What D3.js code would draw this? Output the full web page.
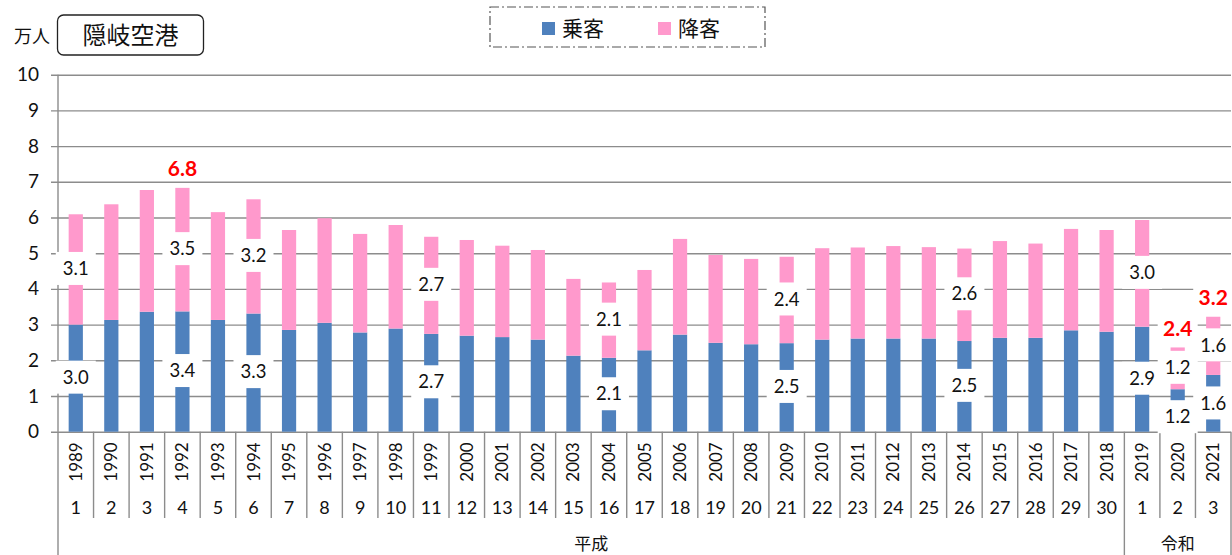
<!DOCTYPE html>
<html lang="ja">
  <head>
    <meta charset="UTF-8" />
    <title>隠岐空港</title>
    <script src="https://d3js.org/d3.v7.min.js"></script>
    <style>
      body {
        margin: 0;
        background: #fff;
      }
      text {
        font-family: Lato, "Noto Sans CJK JP", sans-serif;
      }
      .jp {
        font-family: "Noto Sans CJK JP", sans-serif;
      }
    </style>
  </head>
  <body>
    <div id="chart"></div>
    <script>
      // values in 万人
      var years = [
        1989, 1990, 1991, 1992, 1993, 1994, 1995, 1996, 1997, 1998, 1999, 2000,
        2001, 2002, 2003, 2004, 2005, 2006, 2007, 2008, 2009, 2010, 2011, 2012,
        2013, 2014, 2015, 2016, 2017, 2018, 2019, 2020, 2021,
      ];
      var eraYears = [
        1, 2, 3, 4, 5, 6, 7, 8, 9, 10, 11, 12, 13, 14, 15, 16, 17, 18, 19, 20,
        21, 22, 23, 24, 25, 26, 27, 28, 29, 30, 1, 2, 3,
      ];
      var eraNames = ["平成", "令和"];
      var eraFirstYear = [1989, 2019];

      var boarding = [
        3.0, 3.13, 3.36, 3.37, 3.13, 3.31, 2.85, 3.05, 2.78, 2.89, 2.74, 2.69,
        2.65, 2.58, 2.13, 2.07, 2.28, 2.72, 2.49, 2.45, 2.48, 2.58, 2.61, 2.61,
        2.61, 2.54, 2.63, 2.63, 2.84, 2.8, 2.94, 1.19, 1.59,
      ];
      var alighting = [
        3.09, 3.24, 3.41, 3.46, 3.02, 3.2, 2.8, 2.93, 2.76, 2.9, 2.72, 2.68,
        2.56, 2.51, 2.15, 2.11, 2.25, 2.68, 2.46, 2.39, 2.42, 2.56, 2.55, 2.59,
        2.56, 2.59, 2.71, 2.64, 2.84, 2.85, 2.99, 1.17, 1.63,
      ];
      var labelYears = [1989, 1992, 1994, 1999, 2004, 2009, 2014, 2019, 2020, 2021];
      var totalLabelYears = [1992, 2020, 2021];
      var yTicks = [0, 1, 2, 3, 4, 5, 6, 7, 8, 9, 10];

      var W = 1232,
        H = 555;
      var plotLeft = 58,
        plotRight = 1231,
        plotBottom = 431.7,
        plotTop = 74.7;

      var svg = d3
        .select("#chart")
        .append("svg")
        .attr("width", W)
        .attr("height", H);

      var data = years.map(function (yr, i) {
        return {
          year: yr,
          era: eraYears[i],
          b: boarding[i],
          a: alighting[i],
          t: boarding[i] + alighting[i],
        };
      });

      var xCell = d3.scaleBand().domain(years).range([plotLeft, plotRight]);
      var xBar = d3
        .scaleBand()
        .domain(years)
        .range([plotLeft, plotRight])
        .paddingInner(0.6)
        .paddingOuter(0.3);
      var y = d3.scaleLinear().domain([0, 10]).range([plotBottom, plotTop]);

      var grey = "#8c8c8c";

      // Y axis + gridlines
      var yAxis = svg
        .append("g")
        .attr("transform", "translate(51,0)")
        .call(
          d3
            .axisLeft(y)
            .tickValues(yTicks)
            .tickSize(-(plotRight - 51))
            .tickPadding(12)
        );
      yAxis.select(".domain").remove();
      yAxis
        .selectAll(".tick line")
        .attr("stroke", grey)
        .attr("stroke-width", 1.4);
      yAxis
        .selectAll(".tick text")
        .attr("font-size", 19)
        .attr("fill", "#111");

      svg
        .append("line")
        .attr("x1", plotLeft)
        .attr("x2", plotLeft)
        .attr("y1", y(10))
        .attr("y2", plotBottom)
        .attr("stroke", grey)
        .attr("stroke-width", 1.4);

      // bars
      var bars = svg.append("g");
      bars
        .selectAll("rect.b")
        .data(data)
        .enter()
        .append("rect")
        .attr("x", (d) => xBar(d.year))
        .attr("width", xBar.bandwidth())
        .attr("y", (d) => y(d.b))
        .attr("height", (d) => y(0) - y(d.b))
        .attr("fill", "#4f81bd");
      bars
        .selectAll("rect.a")
        .data(data)
        .enter()
        .append("rect")
        .attr("x", (d) => xBar(d.year))
        .attr("width", xBar.bandwidth())
        .attr("y", (d) => y(d.t))
        .attr("height", (d) => y(d.b) - y(d.t))
        .attr("fill", "#ff99cc");

      // category separators below the axis
      var sep = svg.append("g").attr("stroke", grey).attr("stroke-width", 1.4);
      years.concat(["end"]).forEach(function (yr) {
        var xx = yr === "end" ? plotRight : xCell(yr);
        var full = yr === "end" || eraFirstYear.indexOf(yr) >= 0;
        sep
          .append("line")
          .attr("x1", xx)
          .attr("x2", xx)
          .attr("y1", plotBottom)
          .attr("y2", full ? H : 518);
      });

      var cx = (d) => xCell(d.year) + xCell.bandwidth() / 2;

      svg
        .append("g")
        .selectAll("text")
        .data(data)
        .enter()
        .append("text")
        .attr("transform", (d) => "translate(" + (cx(d) + 6) + ",462) rotate(-90)")
        .attr("text-anchor", "middle")
        .attr("font-size", 17)
        .attr("fill", "#111")
        .text((d) => d.year);

      svg
        .append("g")
        .selectAll("text")
        .data(data)
        .enter()
        .append("text")
        .attr("x", cx)
        .attr("y", 514)
        .attr("text-anchor", "middle")
        .attr("font-size", 18)
        .attr("fill", "#111")
        .text((d) => d.era);

      eraNames.forEach(function (name, i) {
        var x0 = xCell(eraFirstYear[i]);
        var x1 = i + 1 < eraNames.length ? xCell(eraFirstYear[i + 1]) : plotRight;
        svg
          .append("text")
          .attr("class", "jp")
          .attr("x", (x0 + x1) / 2)
          .attr("y", 550)
          .attr("text-anchor", "middle")
          .attr("font-size", 17)
          .attr("fill", "#111")
          .text(name);
      });

      // data labels with white boxes
      var labels = svg.append("g");
      function boxLabel(x, yc, txt, w, h, color, bold, size) {
        labels
          .append("rect")
          .attr("x", x - w / 2)
          .attr("y", yc - h / 2)
          .attr("width", w)
          .attr("height", h)
          .attr("fill", "#fff");
        labels
          .append("text")
          .attr("x", x)
          .attr("y", yc)
          .attr("dy", "0.36em")
          .attr("text-anchor", "middle")
          .attr("font-size", size)
          .attr("font-weight", bold ? "bold" : "normal")
          .attr("fill", color)
          .text(txt);
      }
      data
        .filter((d) => labelYears.indexOf(d.year) >= 0)
        .forEach(function (d) {
          // very short segments get their label pushed down like the original
          var bc = Math.max((y(0) + y(d.b)) / 2 - 1, y(d.b) + 28);
          boxLabel(cx(d), Math.min(bc, y(0) - 15), d.b.toFixed(1), 40, 33, "#111", false, 18.5);
          boxLabel(cx(d), (y(d.b) + y(d.t)) / 2 - 1, d.a.toFixed(1), 40, 33, "#111", false, 18.5);
        });
      data
        .filter((d) => totalLabelYears.indexOf(d.year) >= 0)
        .forEach(function (d) {
          boxLabel(cx(d), y(d.t) - 19, d.t.toFixed(1), 40, 24, "#ff0000", true, 21);
        });

      // unit + title box
      svg
        .append("text")
        .attr("class", "jp")
        .attr("x", 14)
        .attr("y", 43)
        .attr("font-size", 18)
        .attr("fill", "#111")
        .text("万人");
      svg
        .append("rect")
        .attr("x", 57.5)
        .attr("y", 15)
        .attr("width", 146)
        .attr("height", 40)
        .attr("rx", 6)
        .attr("fill", "#fff")
        .attr("stroke", "#222")
        .attr("stroke-width", 1.3);
      svg
        .append("text")
        .attr("class", "jp")
        .attr("x", 130.5)
        .attr("y", 44)
        .attr("text-anchor", "middle")
        .attr("font-size", 24)
        .attr("fill", "#111")
        .text("隠岐空港");

      // legend
      svg
        .append("rect")
        .attr("x", 490)
        .attr("y", 7)
        .attr("width", 275)
        .attr("height", 40)
        .attr("fill", "none")
        .attr("stroke", "#555")
        .attr("stroke-width", 1.2)
        .attr("stroke-dasharray", "9,3,2,3");
      var legend = [
        { name: "乗客", color: "#4f81bd", x: 542 },
        { name: "降客", color: "#ff99cc", x: 658 },
      ];
      legend.forEach(function (l) {
        svg
          .append("rect")
          .attr("x", l.x)
          .attr("y", 22)
          .attr("width", 13)
          .attr("height", 13)
          .attr("fill", l.color);
        svg
          .append("text")
          .attr("class", "jp")
          .attr("x", l.x + 20)
          .attr("y", 36)
          .attr("font-size", 21)
          .attr("fill", "#111")
          .text(l.name);
      });
    </script>
  </body>
</html>
